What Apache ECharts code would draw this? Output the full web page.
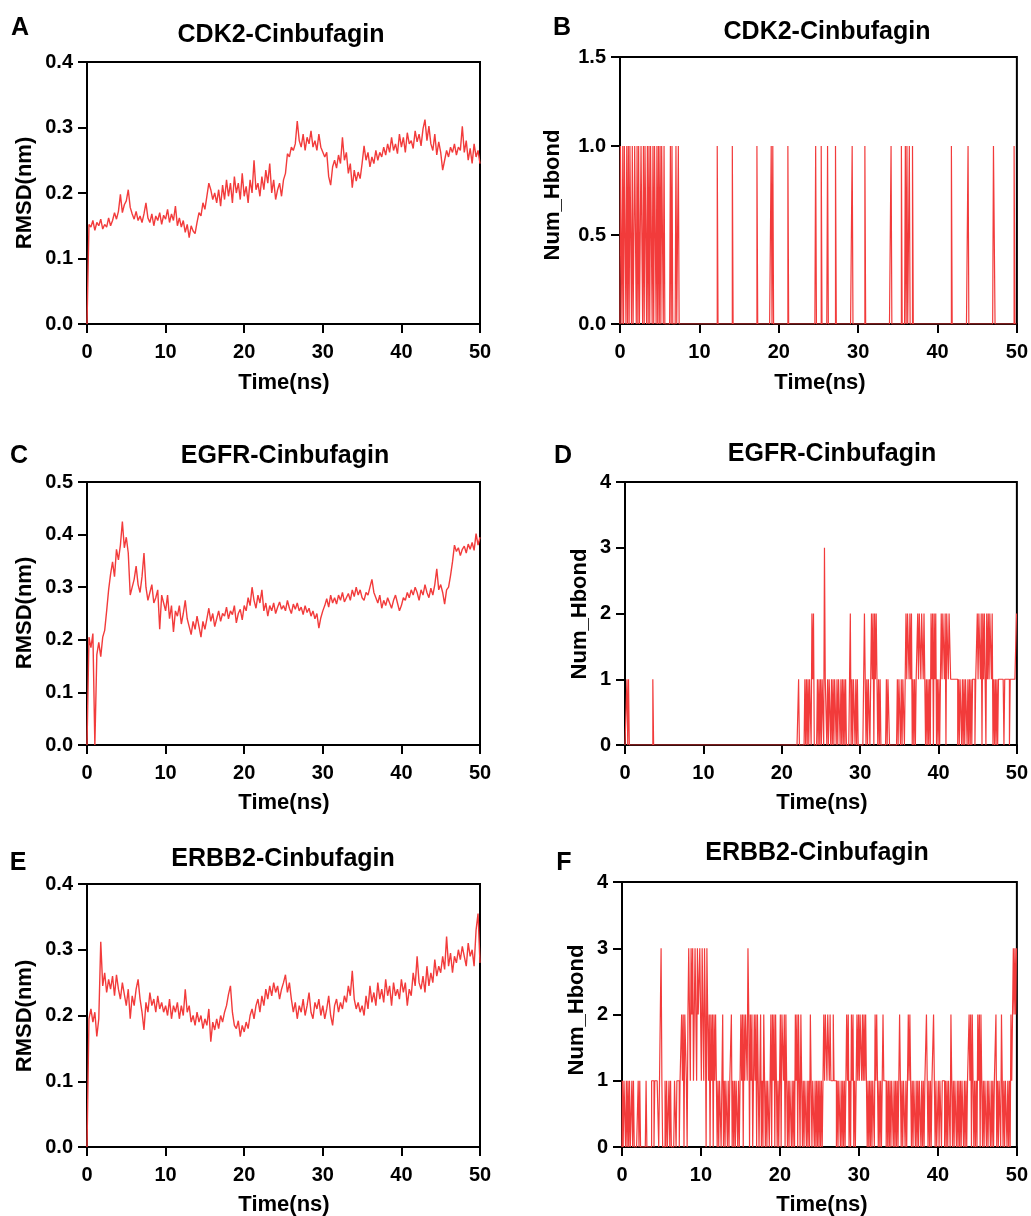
<!DOCTYPE html>
<html><head><meta charset="utf-8">
<script src="https://cdn.jsdelivr.net/npm/echarts@6/dist/echarts.min.js"></script>
<style>html,body{margin:0;padding:0;background:#fff}#c{width:1031px;height:1216px}</style>
</head><body><div id="c"></div>
<script>
// ---------- DATA ----------
const xTicks = [0, 10, 20, 30, 40, 50];
const rmsdStep = 0.25; // ns between RMSD samples
const hbStep = 0.1;    // ns between H-bond samples

const rmsdCDK2 = [
0.000,0.152,0.148,0.158,0.143,0.155,0.150,0.160,0.145,0.152,0.148,0.162,0.150,0.158,0.170,0.160,0.172,0.198,0.170,0.182,
0.188,0.205,0.178,0.168,0.160,0.172,0.158,0.165,0.155,0.168,0.185,0.162,0.155,0.168,0.150,0.165,0.158,0.170,0.152,0.166,
0.160,0.175,0.155,0.168,0.158,0.180,0.150,0.162,0.148,0.158,0.140,0.152,0.132,0.150,0.142,0.138,0.155,0.170,0.165,0.185,
0.175,0.195,0.215,0.205,0.190,0.200,0.185,0.205,0.180,0.212,0.190,0.220,0.195,0.215,0.185,0.225,0.200,0.215,0.190,0.230,
0.195,0.210,0.185,0.220,0.200,0.250,0.205,0.215,0.195,0.225,0.205,0.235,0.215,0.245,0.200,0.220,0.190,0.205,0.215,0.195,
0.220,0.230,0.260,0.255,0.270,0.265,0.275,0.310,0.280,0.270,0.290,0.265,0.285,0.275,0.295,0.270,0.280,0.265,0.290,0.270,
0.270,0.255,0.262,0.225,0.212,0.240,0.250,0.238,0.258,0.245,0.285,0.250,0.262,0.230,0.245,0.208,0.235,0.218,0.232,0.222,
0.245,0.272,0.250,0.262,0.240,0.255,0.245,0.265,0.250,0.262,0.255,0.270,0.258,0.275,0.262,0.285,0.265,0.275,0.260,0.290,
0.270,0.285,0.262,0.292,0.275,0.280,0.268,0.295,0.278,0.290,0.272,0.298,0.312,0.280,0.302,0.275,0.265,0.290,0.258,0.278,
0.262,0.235,0.250,0.265,0.255,0.270,0.262,0.275,0.258,0.270,0.265,0.302,0.262,0.280,0.250,0.268,0.245,0.275,0.255,0.265,
0.245];

const rmsdEGFR = [
0.000,0.205,0.185,0.212,0.000,0.172,0.195,0.168,0.205,0.218,0.255,0.295,0.325,0.348,0.320,0.372,0.352,0.380,0.425,0.375,
0.395,0.365,0.285,0.300,0.315,0.340,0.305,0.290,0.320,0.365,0.300,0.275,0.290,0.305,0.270,0.280,0.295,0.220,0.285,0.270,
0.255,0.285,0.240,0.265,0.215,0.255,0.245,0.265,0.230,0.250,0.275,0.240,0.225,0.210,0.235,0.220,0.245,0.225,0.205,0.235,
0.220,0.240,0.260,0.235,0.250,0.225,0.240,0.255,0.235,0.250,0.245,0.262,0.240,0.255,0.248,0.265,0.232,0.250,0.258,0.238,
0.265,0.255,0.280,0.265,0.300,0.275,0.260,0.285,0.270,0.295,0.255,0.270,0.245,0.265,0.255,0.270,0.250,0.262,0.272,0.258,
0.265,0.255,0.275,0.260,0.250,0.268,0.258,0.270,0.255,0.262,0.248,0.265,0.252,0.260,0.245,0.255,0.240,0.250,0.222,0.242,
0.255,0.265,0.278,0.262,0.285,0.270,0.280,0.268,0.285,0.275,0.290,0.272,0.280,0.288,0.275,0.295,0.282,0.300,0.285,0.295,
0.280,0.275,0.290,0.285,0.300,0.315,0.290,0.280,0.270,0.285,0.260,0.275,0.265,0.280,0.270,0.260,0.275,0.285,0.270,0.255,
0.265,0.280,0.275,0.290,0.280,0.295,0.285,0.300,0.290,0.275,0.295,0.285,0.305,0.290,0.280,0.298,0.285,0.305,0.335,0.295,
0.305,0.290,0.268,0.295,0.300,0.322,0.348,0.380,0.368,0.375,0.360,0.372,0.378,0.365,0.382,0.372,0.385,0.370,0.402,0.380,
0.395];

const rmsdERBB2 = [
0.000,0.195,0.210,0.190,0.205,0.168,0.195,0.312,0.245,0.265,0.235,0.255,0.240,0.260,0.230,0.262,0.240,0.225,0.250,0.232,
0.215,0.240,0.195,0.230,0.215,0.240,0.255,0.225,0.205,0.178,0.220,0.205,0.235,0.215,0.225,0.205,0.230,0.210,0.220,0.205,
0.215,0.200,0.225,0.195,0.215,0.205,0.220,0.195,0.215,0.200,0.240,0.205,0.215,0.190,0.200,0.185,0.205,0.190,0.200,0.180,
0.195,0.185,0.210,0.160,0.190,0.178,0.195,0.180,0.200,0.190,0.205,0.215,0.232,0.245,0.205,0.185,0.180,0.192,0.168,0.185,
0.175,0.190,0.180,0.200,0.210,0.195,0.215,0.225,0.205,0.230,0.215,0.240,0.225,0.245,0.230,0.250,0.235,0.245,0.225,0.240,
0.250,0.262,0.235,0.250,0.225,0.205,0.220,0.195,0.215,0.205,0.225,0.200,0.215,0.235,0.205,0.195,0.220,0.210,0.225,0.200,
0.215,0.195,0.210,0.230,0.200,0.185,0.215,0.225,0.205,0.220,0.210,0.230,0.220,0.245,0.230,0.268,0.225,0.210,0.220,0.205,
0.215,0.200,0.230,0.210,0.245,0.220,0.235,0.215,0.250,0.225,0.240,0.220,0.255,0.230,0.245,0.215,0.250,0.230,0.240,0.225,
0.255,0.235,0.250,0.215,0.240,0.230,0.265,0.245,0.290,0.250,0.240,0.260,0.235,0.275,0.245,0.265,0.250,0.285,0.260,0.275,
0.265,0.290,0.270,0.320,0.275,0.295,0.265,0.290,0.280,0.300,0.285,0.305,0.290,0.275,0.310,0.290,0.300,0.275,0.330,0.355,
0.280];

// H-bond counts, one digit per 0.1 ns frame, each row = 5 ns
const hbondCDK2 = [
"0110101101 0101101001 1010100110 1011010101 1010110101",
"0101101000 0000101000 0100100000 0000000000 0000000000",
"0000000000 0000000000 0001000000 0000000000 0010000000",
"0000000000 0000000000 0001000000 0000000000 0101000000",
"0000000000 0010000000 0000000000 0000000000 0000000100",
"0000100000 0010000000 0010000000 0000000000 0001000000",
"0000000001 0000000000 0000000000 0000000000 0010000000",
"0000010000 1010010001 0000000000 0000000000 0000000000",
"0000000000 0000000010 0000000000 0000000001 0000000000",
"0000000000 0000000000 0110000000 0000000000 0000000100",
"0"];

const hbondEGFR = [
"0001010000 0000000000 0000000000 0000001000 0000000000",
"0000000000 0000000000 0000000000 0000000000 0000000000",
"0000000000 0000000000 0000000000 0000000000 0000000000",
"0000000000 0000000000 0000000000 0000000000 0000000000",
"0000000000 0000000000 0010000000 1010101102 1200001010",
"1011031101 0110101011 0101101010 1010000020 1011010100",
"0000002101 0110121202 1210101000 0000101100 0000000010",
"1101011002 1221212010 1011212212 2121010101 0212021201",
"0101212212 0221221111 1111101011 0101011010 1010111011",
"2122120212 2021212212 0101010111 1111011111 1011111111",
"2"];

const hbondERBB2 = [
"0101101010 1001010000 0101000000 0100000011 1011111012",
"3100010100 1010000110 1110112120 2210232132 3123213223",
"2132132032 1202120212 1010110120 1011010112 0101011010",
"1212021221 3202120121 2021012010 2101011012 0212021010",
"1202212021 0101101010 2120210210 1011010102 1011010101",
"0101012122 1221211121 1101011010 1010121201 0212010121",
"2122121212 1010101011 0212201010 1211101010 1011010101",
"0121010110 1012122010 1101010110 1010112101 0101121010",
"0101101110 1010110210 1011010101 0110101011 2120210101",
"0212021010 1101011010 1011201011 0210101101 0102123232",
"3"];

const panelTitles = ["CDK2-Cinbufagin","CDK2-Cinbufagin","EGFR-Cinbufagin","EGFR-Cinbufagin","ERBB2-Cinbufagin","ERBB2-Cinbufagin"];
const panelLetters = ["A","B","C","D","E","F"];
const yNames = ["RMSD(nm)","Num_Hbond","RMSD(nm)","Num_Hbond","RMSD(nm)","Num_Hbond"];
const xName = "Time(ns)";
const yTicksRMSD_A = [0, 0.1, 0.2, 0.3, 0.4];
const yTicksHb_B = [0, 0.5, 1.0, 1.5];
const yTicksRMSD_C = [0, 0.1, 0.2, 0.3, 0.4, 0.5];
const yTicksHb_D = [0, 1, 2, 3, 4];
const yTicksRMSD_E = [0, 0.1, 0.2, 0.3, 0.4];
const yTicksHb_F = [0, 1, 2, 3, 4];

// ---------- BUILD ----------
function parseDigits(rows){ return rows.join('').replace(/\s/g,'').split('').map(Number); }
function pairs(vals, step){ return vals.map((v,i)=>[+(i*step).toFixed(3), v]); }

const seriesData = [
  pairs(rmsdCDK2, rmsdStep),
  pairs(parseDigits(hbondCDK2), hbStep),
  pairs(rmsdEGFR, rmsdStep),
  pairs(parseDigits(hbondEGFR), hbStep),
  pairs(rmsdERBB2, rmsdStep),
  pairs(parseDigits(hbondERBB2), hbStep)
];
const isHbond = [false,true,false,true,false,true];
const yTickSets = [yTicksRMSD_A, yTicksHb_B, yTicksRMSD_C, yTicksHb_D, yTicksRMSD_E, yTicksHb_F];
const yDecimals = [1,1,1,0,1,0];

// layout (pixels)
const layout = [
  {left:87,  top:62,  w:393, h:262, title:[281,35], letter:[20,28],  yName:[25,193],  xName:[284,383]},
  {left:620, top:57,  w:399, h:267, title:[827,32], letter:[562,28], yName:[553,195], xName:[820,383]},
  {left:87,  top:482, w:393, h:263, title:[285,456],letter:[19,456], yName:[25,613],  xName:[284,803]},
  {left:625, top:482, w:394, h:263, title:[832,454],letter:[563,456],yName:[580,614], xName:[822,803]},
  {left:87,  top:884, w:393, h:263, title:[283,859],letter:[18,863], yName:[25,1016], xName:[284,1205]},
  {left:622, top:882, w:397, h:265, title:[817,853],letter:[564,863],yName:[577,1010],xName:[822,1205]}
];

const FONT = '"Liberation Sans", Arial, Helvetica, sans-serif';
const RED = '#F23B3B';

const grids=[], xAxes=[], yAxes=[], series=[], graphics=[];
layout.forEach((L,k)=>{
  grids.push({left:L.left, top:L.top, width:L.w, height:L.h, show:true, borderColor:'#000', borderWidth:2, backgroundColor:'transparent', containLabel:false});
  xAxes.push({gridIndex:k, type:'value', min:xTicks[0], max:xTicks[xTicks.length-1], interval:xTicks[1]-xTicks[0],
    axisLine:{show:true, onZero:false, lineStyle:{color:'#000', width:2}},
    axisTick:{show:true, length:9, lineStyle:{color:'#000', width:2}},
    axisLabel:{color:'#000', fontSize:20, fontWeight:'bold', fontFamily:FONT, margin:18},
    splitLine:{show:false}});
  const yt = yTickSets[k];
  const dec = yDecimals[k];
  yAxes.push({gridIndex:k, type:'value', min:yt[0], max:yt[yt.length-1], interval:yt[1]-yt[0],
    axisLine:{show:true, onZero:false, lineStyle:{color:'#000', width:2}},
    axisTick:{show:true, length:9, lineStyle:{color:'#000', width:2}},
    axisLabel:{color:'#000', fontSize:20, fontWeight:'bold', fontFamily:FONT, margin:14, formatter:v=>v.toFixed(dec)},
    splitLine:{show:false}});
  series.push({type:'line', xAxisIndex:k, yAxisIndex:k, data:seriesData[k], showSymbol:false, symbol:'none',
    step: isHbond[k] ? 'middle' : false,
    lineStyle:{color:RED, width: isHbond[k] ? 1.2 : 1.4}, animation:false, z:5, clip:true});
  graphics.push({type:'text', x:L.title[0], y:L.title[1], style:{text:panelTitles[k], fill:'#000', font:'bold 25px '+FONT, textAlign:'center', textVerticalAlign:'middle', align:'center', verticalAlign:'middle'}});
  graphics.push({type:'text', x:L.letter[0], y:L.letter[1], style:{text:panelLetters[k], fill:'#000', font:'bold 25px '+FONT, textAlign:'center', textVerticalAlign:'middle', align:'center', verticalAlign:'middle'}});
  graphics.push({type:'text', x:L.xName[0], y:L.xName[1], style:{text:xName, fill:'#000', font:'bold 22px '+FONT, textAlign:'center', textVerticalAlign:'middle', align:'center', verticalAlign:'middle'}});
  graphics.push({type:'text', x:L.yName[0], y:L.yName[1], rotation:Math.PI/2, style:{text:yNames[k], fill:'#000', font:'bold 22px '+FONT, textAlign:'center', textVerticalAlign:'middle', align:'center', verticalAlign:'middle'}});
});

const chart = echarts.init(document.getElementById('c'), null, {renderer:'canvas'});
chart.setOption({backgroundColor:'#fff', animation:false, grid:grids, xAxis:xAxes, yAxis:yAxes, series:series, graphic:graphics});
</script></body></html>
